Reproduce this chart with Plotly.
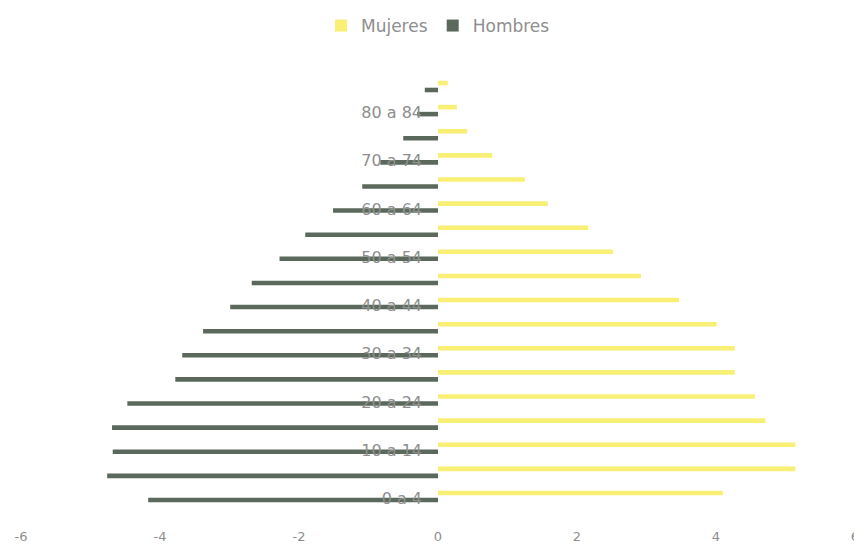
import plotly.graph_objects as go

categorias = ["0 a 4", "5 a 9", "10 a 14", "15 a 19", "20 a 24", "25 a 29", "30 a 34",
              "35 a 39", "40 a 44", "45 a 49", "50 a 54", "55 a 59", "60 a 64", "65 a 69",
              "70 a 74", "75 a 79", "80 a 84", "85 y más"]
hombres = [4.17, 4.76, 4.68, 4.69, 4.47, 3.78, 3.68, 3.38, 2.99, 2.68, 2.28, 1.91, 1.51,
           1.09, 0.83, 0.50, 0.30, 0.19]
mujeres = [4.10, 5.14, 5.14, 4.71, 4.56, 4.27, 4.27, 4.01, 3.47, 2.92, 2.52, 2.16, 1.58,
           1.25, 0.78, 0.42, 0.27, 0.14]
etiquetas_y = ["0 a 4", "10 a 14", "20 a 24", "30 a 34", "40 a 44", "50 a 54",
               "60 a 64", "70 a 74", "80 a 84"]
ticks_x = [-6, -4, -2, 0, 2, 4, 6]

GREEN = "#5a695b"
YELLOW = "#f8ef74"
TXT = "#8e8e8e"
FONT = "DejaVu Sans, sans-serif"

fig = go.Figure()
fig.add_trace(go.Bar(
    name="Hombres", y=categorias, x=[-v for v in hombres], orientation="h",
    marker=dict(color=GREEN, line=dict(width=0)), width=0.19, offset=-0.24,
    legendrank=2))
fig.add_trace(go.Bar(
    name="Mujeres", y=categorias, x=mujeres, orientation="h",
    marker=dict(color=YELLOW, line=dict(width=0)), width=0.19, offset=0.05,
    legendrank=1))

fig.update_layout(
    width=854, height=539,
    barmode="overlay",
    plot_bgcolor="white", paper_bgcolor="white",
    margin=dict(l=13, r=7, t=62, b=26, autoexpand=False),
    font=dict(family=FONT, size=12, color=TXT),
    showlegend=True,
    legend=dict(orientation="h", x=0.5, xanchor="center", y=1.0, yref="container",
                yanchor="top", font=dict(family=FONT, size=17, color=TXT), itemwidth=30,
                traceorder="normal"),
    xaxis=dict(range=[-6, 6], tickvals=ticks_x, ticktext=[str(t) for t in ticks_x],
               showgrid=False, zeroline=False, showline=False, ticks="",
               automargin=False, ticklabeloverflow="allow", ticklabelstandoff=6,
               tickfont=dict(family=FONT, size=13, color=TXT)),
    yaxis=dict(type="category", categoryorder="array", categoryarray=categorias,
               range=[-1.016, 17.684], tickvals=etiquetas_y, ticktext=etiquetas_y,
               anchor="free", position=0.5, showgrid=False, zeroline=False,
               showline=False, ticks="", ticklabelstandoff=16, ticklabelshift=2,
               automargin=False,
               tickfont=dict(family=FONT, size=16, color=TXT)),
)

fig.write_html("out.html")
